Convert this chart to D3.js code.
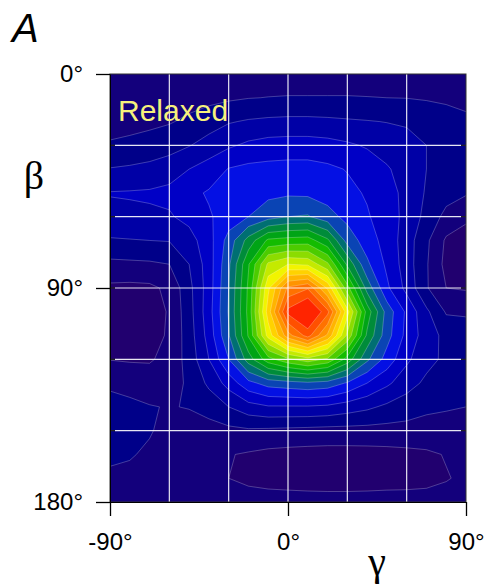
<!DOCTYPE html>
<html>
<head>
<meta charset="utf-8">
<script src="https://cdnjs.cloudflare.com/ajax/libs/d3/7.8.5/d3.min.js"></script>
<style>
  body { margin: 0; background: #fff; }
  svg { display: block; }
</style>
</head>
<body>
<div id="chart"></div>
<script>
// grid nodes (degrees)
var gammaNodes = [-90, -80, -70, -60, -50, -40, -30, -20, -10, 0, 10, 20, 30, 40, 50, 60, 70, 80, 90];
var betaNodes = [0, 10, 20, 30, 40, 50, 60, 70, 80, 90, 100, 110, 120, 130, 140, 150, 160, 170, 180];

// map values, one row per beta node (top to bottom)
var density = [
  [1.30, 1.30, 1.35, 1.40, 1.40, 1.45, 1.50, 1.50, 1.50, 1.50, 1.50, 1.50, 1.50, 1.45, 1.45, 1.40, 1.40, 1.35, 1.30],
  [1.40, 1.42, 1.45, 1.50, 1.60, 1.72, 1.85, 1.97, 2.02, 2.05, 2.05, 2.05, 2.05, 2.03, 2.00, 1.98, 1.90, 1.80, 1.72],
  [1.65, 1.72, 1.80, 1.92, 2.20, 2.55, 2.92, 3.10, 3.20, 3.25, 3.25, 3.20, 3.12, 3.05, 2.97, 2.90, 2.75, 2.50, 2.20],
  [2.10, 2.20, 2.35, 2.60, 2.95, 3.40, 3.85, 4.20, 4.40, 4.45, 4.45, 4.35, 4.15, 3.90, 3.60, 3.30, 3.00, 2.60, 2.30],
  [3.05, 3.15, 3.30, 3.55, 4.00, 4.45, 5.05, 5.25, 5.30, 5.35, 5.35, 5.20, 4.95, 4.55, 4.10, 3.60, 3.00, 2.60, 2.40],
  [4.05, 4.08, 4.12, 4.25, 4.75, 5.10, 5.40, 5.60, 5.75, 5.85, 5.80, 5.55, 5.25, 4.90, 4.40, 3.70, 2.90, 2.40, 2.10],
  [3.75, 3.80, 3.85, 3.90, 4.30, 4.90, 5.40, 6.00, 6.60, 7.00, 7.10, 6.40, 5.70, 5.10, 4.50, 3.70, 2.70, 1.70, 1.20],
  [2.90, 2.95, 3.00, 3.05, 3.60, 4.60, 6.40, 8.40, 10.20, 10.40, 10.50, 9.20, 6.60, 5.50, 4.60, 3.50, 2.20, 0.85, 0.55],
  [1.75, 1.80, 1.85, 2.00, 3.00, 4.50, 6.80, 9.90, 13.20, 14.00, 13.80, 12.20, 8.80, 6.20, 4.80, 3.50, 2.10, 0.70, 0.50],
  [0.80, 0.75, 0.80, 1.20, 2.70, 4.50, 7.00, 10.20, 14.80, 18.20, 18.90, 15.80, 11.40, 7.60, 5.20, 3.70, 2.10, 1.00, 0.90],
  [0.50, 0.40, 0.50, 1.10, 2.60, 4.60, 7.10, 10.30, 15.50, 20.30, 21.50, 19.30, 14.40, 9.60, 6.60, 4.80, 3.20, 1.90, 1.85],
  [0.60, 0.50, 0.55, 1.15, 2.50, 4.40, 6.90, 10.10, 14.40, 17.60, 19.40, 16.80, 12.80, 8.80, 6.40, 4.70, 3.50, 2.70, 2.55],
  [0.97, 0.90, 0.90, 1.30, 2.40, 4.00, 6.00, 8.50, 10.60, 11.80, 12.60, 11.80, 9.60, 7.20, 5.60, 4.20, 3.30, 2.80, 2.60],
  [1.85, 1.70, 1.50, 1.50, 2.20, 3.20, 4.40, 5.70, 6.40, 6.60, 6.80, 6.60, 5.90, 5.00, 4.20, 3.40, 2.80, 2.40, 2.30],
  [2.30, 2.20, 2.05, 1.95, 2.05, 2.40, 3.00, 3.60, 3.90, 3.90, 3.90, 3.80, 3.50, 3.20, 2.80, 2.50, 2.20, 2.10, 2.00],
  [2.40, 2.30, 2.10, 1.60, 1.55, 1.60, 1.75, 1.85, 1.80, 1.75, 1.70, 1.65, 1.65, 1.65, 1.65, 1.65, 1.60, 1.55, 1.55],
  [2.20, 2.10, 1.80, 1.40, 1.25, 1.15, 1.05, 0.90, 0.75, 0.68, 0.64, 0.62, 0.62, 0.64, 0.68, 0.75, 0.85, 1.05, 1.30],
  [1.80, 1.70, 1.50, 1.30, 1.20, 1.10, 1.00, 0.85, 0.75, 0.70, 0.65, 0.62, 0.62, 0.65, 0.70, 0.72, 0.78, 0.95, 1.15],
  [1.50, 1.45, 1.40, 1.35, 1.30, 1.30, 1.30, 1.30, 1.30, 1.30, 1.30, 1.30, 1.30, 1.30, 1.30, 1.30, 1.30, 1.30, 1.30]
];

var levels = [1, 2, 3, 4, 5, 6, 7, 8, 9, 10, 11, 12, 13, 14, 15, 16, 17, 18, 19, 20];
var bandColors = ["#21006f", "#13007c", "#000089", "#0000a6", "#0000c6", "#0410e4", "#0a44b4", "#006f72",
                  "#008c3a", "#00a416", "#14bc00", "#4ccc00", "#8cdc00", "#c4ea00", "#f2f400", "#ffd200",
                  "#ffb400", "#ff9400", "#ff7200", "#ff5000", "#ff2400"];

var gammaTicks = [-90, 0, 90];
var betaTicks = [0, 90, 180];
var gridGamma = [-60, -30, 0, 30, 60];
var gridBeta = [30, 60, 90, 120, 150];

var width = 487, height = 587;

var x = d3.scaleLinear().domain([-90, 90]).range([110, 466]);
var y = d3.scaleLinear().domain([0, 180]).range([74, 502]);
var color = d3.scaleThreshold().domain(levels).range(bandColors);

var svg = d3.select("#chart").append("svg")
  .attr("width", width)
  .attr("height", height);

svg.append("defs").append("clipPath").attr("id", "plotClip")
  .append("rect")
  .attr("x", x(-90)).attr("y", y(0))
  .attr("width", x(90) - x(-90)).attr("height", y(180) - y(0));

var plot = svg.append("g").attr("clip-path", "url(#plotClip)");

plot.append("rect")
  .attr("x", x(-90)).attr("y", y(0))
  .attr("width", x(90) - x(-90)).attr("height", y(180) - y(0))
  .attr("fill", bandColors[0]);

// contour bands
var flat = [];
density.forEach(function(row) { flat = flat.concat(row); });

var contours = d3.contours()
  .size([gammaNodes.length, betaNodes.length])
  .thresholds(levels)(flat);

var stepG = gammaNodes[1] - gammaNodes[0],
    stepB = betaNodes[1] - betaNodes[0];

var proj = d3.geoTransform({
  point: function(px, py) {
    this.stream.point(x(gammaNodes[0] + (px - 0.5) * stepG), y(betaNodes[0] + (py - 0.5) * stepB));
  }
});
var path = d3.geoPath(proj);

plot.selectAll("path.band")
  .data(contours)
  .enter().append("path")
  .attr("class", "band")
  .attr("d", path)
  .attr("fill", function(d) { return color(d.value); });

plot.selectAll("path.iso")
  .data(contours)
  .enter().append("path")
  .attr("class", "iso")
  .attr("d", path)
  .attr("fill", "none")
  .attr("stroke", "#ffffff")
  .attr("stroke-opacity", 0.3)
  .attr("stroke-width", 0.8);

// white grid
plot.selectAll("line.vgrid")
  .data(gridGamma)
  .enter().append("line")
  .attr("class", "vgrid")
  .attr("x1", function(d) { return x(d); }).attr("x2", function(d) { return x(d); })
  .attr("y1", y(0)).attr("y2", y(180))
  .attr("stroke", "#ffffff").attr("stroke-width", 1.2).attr("stroke-opacity", 0.9);

plot.selectAll("line.hgrid")
  .data(gridBeta)
  .enter().append("line")
  .attr("class", "hgrid")
  .attr("x1", x(-90) + 5).attr("x2", x(90) - 5)
  .attr("y1", function(d) { return y(d); }).attr("y2", function(d) { return y(d); })
  .attr("stroke", "#ffffff").attr("stroke-width", 1.2).attr("stroke-opacity", 0.9);

// small dark inner ticks at both sides
gridBeta.forEach(function(b) {
  [[x(-90), x(-90) + 5], [x(90) - 5, x(90)]].forEach(function(seg) {
    plot.append("line")
      .attr("x1", seg[0]).attr("x2", seg[1])
      .attr("y1", y(b)).attr("y2", y(b))
      .attr("stroke", "#222").attr("stroke-width", 1.2);
  });
});

// frame
svg.append("rect")
  .attr("x", x(-90)).attr("y", y(0))
  .attr("width", x(90) - x(-90)).attr("height", y(180) - y(0))
  .attr("fill", "none").attr("stroke", "#333").attr("stroke-width", 1);

// axes
var yAxis = d3.axisLeft(y)
  .tickValues(betaTicks)
  .tickSize(14)
  .tickSizeOuter(0)
  .tickPadding(13)
  .tickFormat(function(d) { return d + "°"; });

var xAxis = d3.axisBottom(x)
  .tickValues(gammaTicks)
  .tickSize(14)
  .tickSizeOuter(0)
  .tickPadding(17)
  .tickFormat(function(d) { return d + "°"; });

var gy = svg.append("g").attr("transform", "translate(" + x(-90) + ",0)").call(yAxis);
var gx = svg.append("g").attr("transform", "translate(0," + y(180) + ")").call(xAxis);

[gx, gy].forEach(function(g) {
  g.selectAll("text")
    .style("font-family", "'Liberation Sans', Arial, sans-serif")
    .style("font-size", "24px")
    .attr("fill", "#000");
  g.selectAll("line").attr("stroke", "#000").attr("stroke-width", 1.3);
  g.select(".domain").attr("stroke", "#000");
});

// labels
svg.append("text")
  .attr("x", 118).attr("y", 121)
  .style("font-family", "'Liberation Sans', Arial, sans-serif")
  .style("font-size", "30px")
  .attr("fill", "#f6f07c")
  .text("Relaxed");

svg.append("text")
  .attr("x", 12).attr("y", 42)
  .style("font-family", "'Liberation Sans', Arial, sans-serif")
  .style("font-size", "40px")
  .style("font-style", "italic")
  .text("A");

svg.append("text")
  .attr("x", 34).attr("y", 189)
  .attr("text-anchor", "middle")
  .style("font-family", "'Liberation Serif', 'Times New Roman', serif")
  .style("font-size", "40px")
  .text("β");

svg.append("text")
  .attr("x", 377).attr("y", 575)
  .attr("text-anchor", "middle")
  .style("font-family", "'Liberation Serif', 'Times New Roman', serif")
  .style("font-size", "40px")
  .text("γ");
</script>
</body>
</html>
